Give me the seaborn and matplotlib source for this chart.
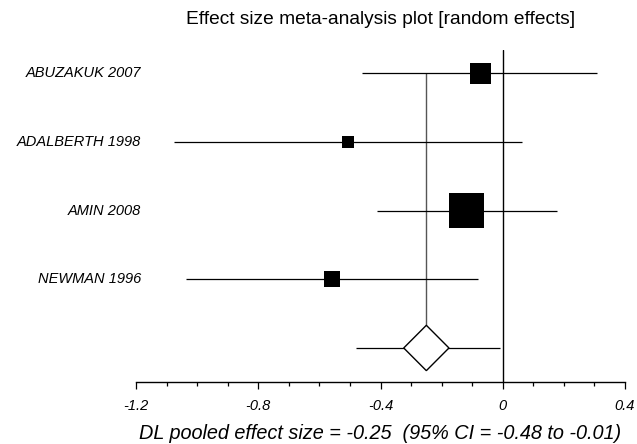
import numpy as np
import pandas as pd
import matplotlib
matplotlib.use("Agg")
import matplotlib.pyplot as plt
import seaborn as sns
from matplotlib.patches import Polygon
from matplotlib.ticker import MultipleLocator
from matplotlib.transforms import blended_transform_factory

# ---- data ----
studies = ["ABUZAKUK 2007", "ADALBERTH 1998", "AMIN 2008", "NEWMAN 1996"]
effect = [-0.074, -0.506, -0.117, -0.558]
ci_low = [-0.46, -1.075, -0.411, -1.036]
ci_high = [0.31, 0.063, 0.178, -0.081]
weights = [21.2, 7.4, 59.1, 12.3]   # relative study weights (%)
pooled = -0.25
pooled_low = -0.48
pooled_high = -0.01
tick_values = [-1.2, -0.8, -0.4, 0, 0.4]
tick_labels = ["-1.2", "-0.8", "-0.4", "0", "0.4"]
title = "Effect size meta-analysis plot [random effects]"
xlabel = "DL pooled effect size = -0.25  (95% CI = -0.48 to -0.01)"

df = pd.DataFrame({"study": studies, "effect": effect, "lo": ci_low,
                   "hi": ci_high, "w": weights, "row": np.arange(len(studies))})
pooled_row = len(studies)

sns.set_theme(style="white")
plt.rcParams["font.family"] = ["Liberation Sans", "DejaVu Sans"]
plt.rcParams["text.color"] = "black"
plt.rcParams["axes.labelcolor"] = "black"
plt.rcParams["xtick.color"] = "black"

fig = plt.figure(figsize=(6.37, 4.44), dpi=100)
ax = fig.add_axes([136 / 637, 1 - 382 / 444, (625 - 136) / 637, (382 - 50) / 444])

# CI lines
ax.hlines(df["row"], df["lo"], df["hi"], color="black", lw=0.9, zorder=2)
ax.hlines(pooled_row, pooled_low, pooled_high, color="black", lw=0.9, zorder=2)

# null line and pooled line
ax.axvline(0, color="black", lw=1.0, zorder=1)
dh = 0.33
dw = 0.074
ax.vlines(pooled, 0, pooled_row - dh, color="#555555", lw=1.0, zorder=1)

# squares
sns.scatterplot(x=df["effect"], y=df["row"], marker="s", color="black",
                s=np.array(weights) * 10.75, linewidth=0, ax=ax, zorder=3, legend=False)

# diamond
diamond = Polygon([[pooled - dw, pooled_row], [pooled, pooled_row - dh],
                   [pooled + dw, pooled_row], [pooled, pooled_row + dh]],
                  closed=True, facecolor="white", edgecolor="black", lw=1.0, zorder=3)
ax.add_patch(diamond)

# study labels
trans = blended_transform_factory(fig.transFigure, ax.transData)
for s, r in zip(studies, df["row"]):
    ax.text(141 / 637, r, s, transform=trans, ha="right", va="center",
            fontsize=10.5, style="italic", color="black")

ax.set_xlim(-1.2, 0.4)
ax.set_ylim(4.495, -0.335)
for sp in ["top", "left", "right"]:
    ax.spines[sp].set_visible(False)
ax.spines["bottom"].set_color("black")
ax.spines["bottom"].set_linewidth(1.0)
ax.set_yticks([])
ax.set_xticks(tick_values)
ax.set_xticklabels(tick_labels, style="italic", fontsize=10.5, color="black")
ax.xaxis.set_minor_locator(MultipleLocator(0.1))
ax.tick_params(axis="x", which="major", direction="out", length=5, width=0.9,
               color="black", pad=7.5, bottom=True)
ax.tick_params(axis="x", which="minor", direction="out", length=2.6, width=0.9,
               color="black", bottom=True)
ax.set_xlabel(xlabel, style="italic", fontsize=14.3, labelpad=8, color="black")
ax.set_ylabel("")

fig.text(381 / 637, 1 - 20 / 444, title, ha="center", va="center", fontsize=13.8,
         color="black")

fig.savefig("out.png", dpi=100, facecolor="white")
